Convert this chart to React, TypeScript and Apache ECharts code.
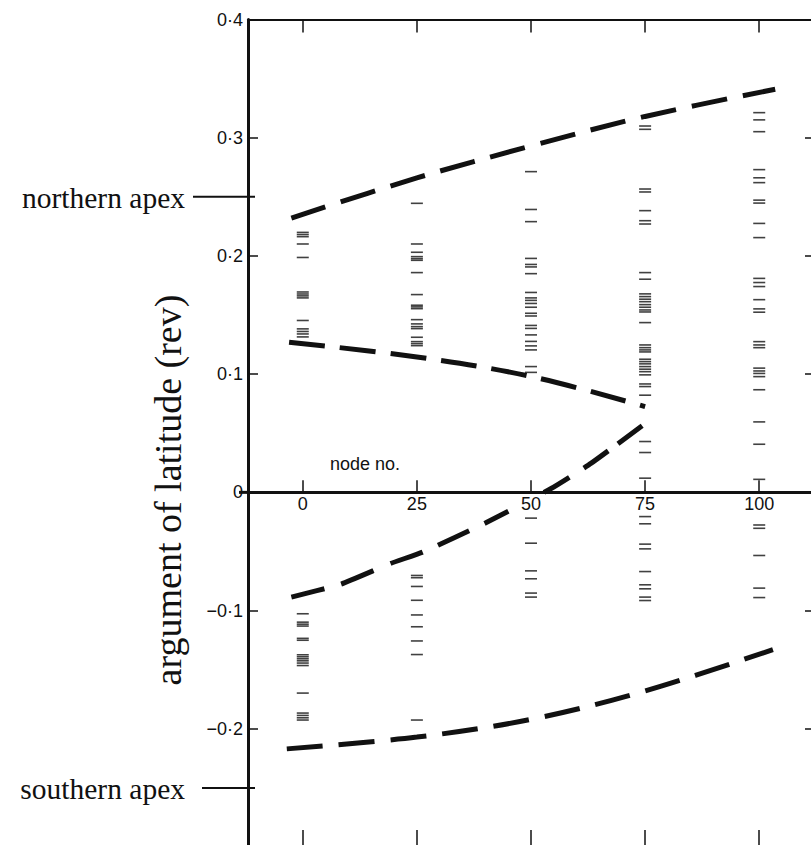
import React, { useEffect, useRef } from "react";
import * as echarts from "echarts";

// ---- axis values ----
const nodeTicks = [0, 25, 50, 75, 100];
const yMin = -0.3;
const yMax = 0.4;
const xMin = -12;
const xMax = 112;
const apexValues = [0.25, -0.25];
const apexLabels = ["northern apex", "southern apex"];

// ---- observed latitudes at each node (rev) ----
const node0Values = [
  0.2199, 0.2181, 0.2163, 0.2101, 0.1987, 0.1695, 0.1678, 0.1662, 0.1645, 0.1454,
  0.1383, 0.1361, 0.134, 0.1315,
  -0.1027, -0.1098, -0.1115, -0.1131, -0.1235, -0.1251, -0.1374, -0.1391, -0.1408,
  -0.1425, -0.1444, -0.1465, -0.1698, -0.1867, -0.1887, -0.1907, -0.1926,
];
const node25Values = [
  0.2445, 0.2101, 0.2031, 0.1994, 0.1977, 0.1963, 0.1859, 0.1673, 0.1583, 0.1569,
  0.1554, 0.1461, 0.1425, 0.1402, 0.1385, 0.1312, 0.1275, 0.1258, 0.1241,
  -0.0703, -0.0722, -0.0796, -0.0913, -0.1037, -0.1137, -0.1257, -0.1372, -0.1926,
];
const node50Values = [
  0.2713, 0.2393, 0.229, 0.1979, 0.1928, 0.1907, 0.185, 0.1691, 0.1645, 0.1624,
  0.1598, 0.1566, 0.1515, 0.1492, 0.1412, 0.1387, 0.1332, 0.1277, 0.1239, 0.1205,
  0.1064, 0.1015,
  -0.0218, -0.043, -0.0664, -0.0731, -0.0852, -0.0886,
];
const node75Values = [
  0.3099, 0.3071, 0.2566, 0.2541, 0.2383, 0.2298, 0.227, 0.1859, 0.1803, 0.1679,
  0.1656, 0.1634, 0.1613, 0.1588, 0.1566, 0.1543, 0.1526, 0.1436, 0.1247, 0.1224,
  0.1205, 0.1188, 0.1126, 0.1106, 0.1087, 0.1064, 0.1042, 0.1021, 0.0994, 0.0917,
  0.0895, 0.0822, 0.043, 0.0337, 0.012,
  -0.0205, -0.0266, -0.0438, -0.0478, -0.067, -0.0782, -0.0816, -0.0886, -0.0915,
];
const node100Values = [
  0.3212, 0.3151, 0.3051, 0.273, 0.2661, 0.262, 0.2472, 0.2447, 0.2275, 0.2155,
  0.181, 0.1775, 0.1741, 0.163, 0.1552, 0.1524, 0.1275, 0.1247, 0.1224, 0.1051,
  0.1027, 0.1006, 0.0979, 0.0868, 0.0596, 0.0407, 0.011,
  -0.0276, -0.0304, -0.0534, -0.081, -0.089,
];

// ---- envelope curves (node, latitude) ----
const northOuter: [number, number][] = [
  [-2.5, 0.232], [25, 0.266], [50, 0.293], [75, 0.318], [103.5, 0.341],
];
const northInner: [number, number][] = [
  [-3, 0.127], [25, 0.1145], [50, 0.098], [75, 0.0726],
];
const southInner: [number, number][] = [
  [-2.5, -0.0886], [8.4, -0.0776], [19.2, -0.0602], [26.3, -0.0505], [40, -0.026],
  [54.5, 0.0035], [63.2, 0.0247], [75.1, 0.0585],
];
const southOuter: [number, number][] = [
  [-3.5, -0.217], [25, -0.207], [50, -0.192], [75, -0.168], [103, -0.133],
];

const columns: [number, number[]][] = [
  [0, node0Values],
  [25, node25Values],
  [50, node50Values],
  [75, node75Values],
  [100, node100Values],
];

const INK = "#111";
const SANS = "Liberation Sans";
const SERIF = "Liberation Serif";

const fmtY = (v: number) => {
  const r = Math.round(v * 10) / 10;
  if (Math.abs(r) < 1e-9) return "0";
  if (r < -0.25) return "";
  const s = Math.abs(r).toFixed(1).replace(".", "·");
  return r < 0 ? "−" + s : s;
};

export default function App() {
  const ref = useRef<HTMLDivElement>(null);
  useEffect(() => {
    if (!ref.current) return;
    const chart = echarts.init(ref.current, undefined, { renderer: "svg" });
    const markData = columns.flatMap(([n, vals]) => vals.map((v) => [n, v]));
    const dashed = (data: [number, number][], smooth: number, dash: number[]) => ({
      type: "line",
      data,
      smooth,
      symbol: "none",
      xAxisIndex: 0,
      yAxisIndex: 0,
      lineStyle: { color: INK, width: 5, type: dash, cap: "butt" },
      z: 3,
    });
    chart.setOption({
      animation: false,
      backgroundColor: "#fff",
      grid: { left: 248, top: 19.5, right: -3, bottom: -2, outerBoundsMode: "none", containLabel: false },
      xAxis: [
        {
          type: "value",
          min: xMin,
          max: xMax,
          position: "bottom",
          offset: 0,
          axisLine: { show: true, onZero: false, lineStyle: { color: INK, width: 3 } },
          axisTick: { show: true, inside: true, length: 12, customValues: nodeTicks, lineStyle: { color: INK, width: 1.5 } },
          axisLabel: { show: true, customValues: nodeTicks, color: INK, fontFamily: SANS, fontSize: 18, margin: 3 },
          splitLine: { show: false },
          z: 4,
        },
        {
          type: "value",
          min: xMin,
          max: xMax,
          position: "top",
          axisLine: { show: true, onZero: false, lineStyle: { color: INK, width: 2 } },
          axisTick: { show: true, inside: true, length: 13, customValues: nodeTicks, lineStyle: { color: INK, width: 1.5 } },
          axisLabel: { show: false },
          splitLine: { show: false },
        },
        {
          type: "value",
          min: xMin,
          max: xMax,
          position: "bottom",
          axisLine: { show: true, onZero: false, lineStyle: { color: INK, width: 2 } },
          axisTick: { show: true, inside: true, length: 17, customValues: nodeTicks, lineStyle: { color: INK, width: 1.5 } },
          axisLabel: { show: false },
          splitLine: { show: false },
        },
      ],
      yAxis: [
        {
          type: "value",
          min: yMin,
          max: yMax,
          interval: 0.1,
          position: "left",
          axisLine: { show: true, onZero: false, lineStyle: { color: INK, width: 3 } },
          axisTick: { show: true, inside: true, length: 10, lineStyle: { color: INK, width: 1.5 } },
          axisLabel: { show: true, color: INK, fontFamily: SANS, fontSize: 18, margin: 5, formatter: fmtY },
          splitLine: { show: false },
        },
        {
          type: "value",
          min: yMin,
          max: yMax,
          interval: 0.1,
          position: "right",
          axisLine: { show: true, onZero: false, lineStyle: { color: INK, width: 2 } },
          axisTick: { show: true, inside: true, length: 9, lineStyle: { color: INK, width: 1.5 } },
          axisLabel: { show: false },
          splitLine: { show: false },
        },
      ],
      series: [
        {
          type: "scatter",
          data: markData,
          symbol: "rect",
          symbolSize: [12, 1.6],
          itemStyle: { color: INK },
          xAxisIndex: 0,
          yAxisIndex: 0,
          z: 2,
        },
        dashed(northOuter, 0.35, [36, 16]),
        dashed(northInner, 0.35, [36, 15]),
        dashed(southInner, 0.15, [34, 17.5, 35, 18.5, 34, 17, 34, 17, 27, 40, 30, 17, 30, 12, 30, 200]),
        dashed(southOuter, 0.35, [36, 16]),
      ],
    });

    const axisLeftX = chart.convertToPixel({ xAxisIndex: 0 }, xMin) as number;
    const zeroY = chart.convertToPixel({ yAxisIndex: 0 }, 0) as number;
    const bottomY = chart.convertToPixel({ yAxisIndex: 0 }, yMin) as number;

    const graphics: any[] = [];
    apexValues.forEach((v, i) => {
      const py = chart.convertToPixel({ yAxisIndex: 0 }, v) as number;
      graphics.push({
        type: "line",
        shape: { x1: axisLeftX - (i === 0 ? 55 : 46), y1: py, x2: axisLeftX + 7, y2: py },
        style: { stroke: INK, lineWidth: 2 },
      });
      graphics.push({
        type: "text",
        x: axisLeftX - 63,
        y: py + 1,
        style: {
          text: apexLabels[i],
          font: `29.5px "${SERIF}"`,
          fill: INK,
          textAlign: "right",
          textVerticalAlign: "middle",
        },
      });
    });
    graphics.push({
      type: "line",
      shape: { x1: axisLeftX - 9, y1: zeroY, x2: axisLeftX, y2: zeroY },
      style: { stroke: INK, lineWidth: 3 },
    });
    graphics.push({
      type: "text",
      x: 168,
      y: 490,
      rotation: Math.PI / 2,
      style: {
        text: "argument of latitude (rev)",
        font: `38px "${SERIF}"`,
        fill: INK,
        textAlign: "center",
        textVerticalAlign: "middle",
      },
    });
    graphics.push({
      type: "text",
      x: 330,
      y: zeroY - 19,
      style: {
        text: "node no.",
        font: `18px "${SANS}"`,
        fill: INK,
        textAlign: "left",
        textVerticalAlign: "bottom",
      },
    });
    chart.setOption({
      xAxis: [{ offset: zeroY - bottomY }, {}, {}],
      graphic: graphics,
    });

    return () => chart.dispose();
  }, []);
  return (
    <div
      ref={ref}
      style={{ position: "absolute", left: 0, top: 0, width: 811, height: 845, background: "#fff" }}
    />
  );
}
